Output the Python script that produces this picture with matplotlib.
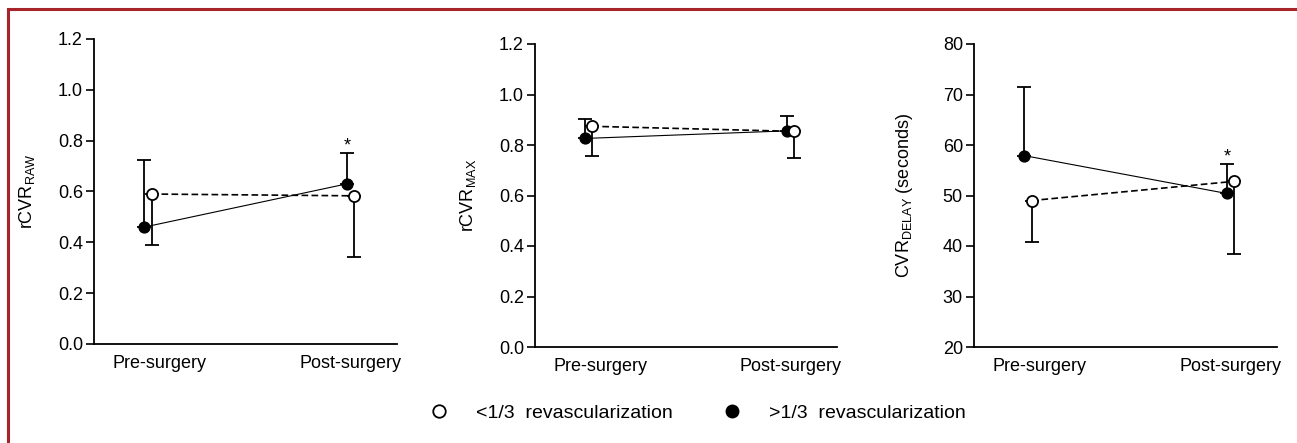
import numpy as np
import matplotlib
matplotlib.use('Agg')
import matplotlib.pyplot as plt
from matplotlib.lines import Line2D
from matplotlib.patches import Rectangle
import matplotlib.transforms as mtransforms

plt.rcParams['font.family'] = ['Liberation Sans', 'DejaVu Sans']
plt.rcParams['mathtext.fontset'] = 'custom'
plt.rcParams['mathtext.rm'] = 'Liberation Sans'

# categories
groups = ['Pre-surgery', 'Post-surgery']

# <1/3 revascularization (open circles), mean and lower SD
low_raw = [0.59, 0.583]
low_raw_err = [0.20, 0.24]
low_max = [0.874, 0.854]
low_max_err = [0.117, 0.106]
low_delay = [49.0, 52.8]
low_delay_err = [8.2, 14.3]

# >1/3 revascularization (filled circles), mean and upper SD
high_raw = [0.46, 0.63]
high_raw_err = [0.265, 0.123]
high_max = [0.826, 0.856]
high_max_err = [0.075, 0.06]
high_delay = [57.9, 50.4]
high_delay_err = [13.6, 5.9]

star_raw = [False, True]
star_max = [False, False]
star_delay = [False, True]

ylabels = ['rCVR$_{\\mathrm{RAW}}$', 'rCVR$_{\\mathrm{MAX}}$',
           'CVR$_{\\mathrm{DELAY}}$ (seconds)']
ylims = [(0, 1.2), (0, 1.2), (20, 80)]
yticks = [np.arange(0, 1.21, 0.2), np.arange(0, 1.21, 0.2), np.arange(20, 81, 10)]
ytickfmt = ['{:.1f}', '{:.1f}', '{:.0f}']

W, H = 1297, 443
fig = plt.figure(figsize=(W / 100, H / 100), dpi=100)

# axes boxes in pixels: left, right, top, bottom
boxes = [(94, 397, 39, 344), (535, 837, 44, 347), (974, 1277, 44, 347)]
labx = [-0.188, -0.189, -0.195]

data = [(low_raw, low_raw_err, high_raw, high_raw_err, star_raw),
        (low_max, low_max_err, high_max, high_max_err, star_max),
        (low_delay, low_delay_err, high_delay, high_delay_err, star_delay)]

off = 0.018
x = np.arange(len(groups))

for i, (l, r, t, b) in enumerate(boxes):
    ax = fig.add_axes([l / W, 1 - b / H, (r - l) / W, (b - t) / H])
    lo, lo_e, hi, hi_e, stars = data[i]

    # filled series: solid thin line, upper error bars
    ax.plot(x - off, hi, color='black', lw=0.8, zorder=2)
    ax.errorbar(x - off, hi, yerr=[np.zeros(len(hi)), hi_e], fmt='none',
                ecolor='black', elinewidth=1.3, capsize=4.7, capthick=1.3, zorder=2)
    ax.plot(x - off, hi, 'o', ms=7.8, mfc='black', mec='black', mew=1.0, zorder=3)

    # open series: dashed line, lower error bars
    ax.plot(x + off, lo, color='black', lw=1.2, ls=(0, (4, 2)), zorder=2)
    ax.errorbar(x + off, lo, yerr=[lo_e, np.zeros(len(lo))], fmt='none',
                ecolor='black', elinewidth=1.3, capsize=4.7, capthick=1.3, zorder=2)
    ax.plot(x + off, lo, 'o', ms=8, mfc='white', mec='black', mew=1.3, zorder=4)

    for j, s in enumerate(stars):
        if s:
            ax.annotate('*', (x[j] - off, hi[j] + hi_e[j]), xytext=(0, -1),
                        textcoords='offset points', ha='center', va='bottom',
                        fontsize=13)

    ax.set_xlim(-0.266, 1.23)
    ax.set_ylim(*ylims[i])
    ax.set_yticks(yticks[i])
    ax.set_yticklabels([ytickfmt[i].format(v) for v in yticks[i]])
    ax.set_xticks(x)
    ax.set_xticklabels(groups)
    ax.tick_params(axis='y', direction='out', length=6, width=1.2, pad=2,
                   labelsize=13)
    ax.tick_params(axis='x', length=0, pad=8, labelsize=13)
    # first category label sits a bit to the right in the original
    lab0 = ax.get_xticklabels()[0]
    lab0.set_transform(lab0.get_transform() +
                       mtransforms.ScaledTranslation(12 / 100, 0, fig.dpi_scale_trans))
    for side in ['top', 'right']:
        ax.spines[side].set_visible(False)
    for side in ['left', 'bottom']:
        ax.spines[side].set_linewidth(1.3)
    ax.set_ylabel(ylabels[i], fontsize=13)
    ax.yaxis.set_label_coords(labx[i], 0.5)

# legend
handles = [Line2D([], [], ls='none', marker='o', ms=9, mfc='white', mec='black', mew=1.3),
           Line2D([], [], ls='none', marker='o', ms=9, mfc='black', mec='black')]
fig.legend(handles, ['<1/3  revascularization', '>1/3  revascularization'],
           loc='center', bbox_to_anchor=(0.538, 1 - 413 / H), ncol=2, frameon=False,
           fontsize=14, handlelength=1.0, handletextpad=1.4, columnspacing=2.55)

# dark red frame
fig.add_artist(Rectangle((7.5 / W, -0.1), 2, 1.1 - 8.5 / H, transform=fig.transFigure,
                         fill=False, ec='#a8242b', lw=2.2))

fig.savefig('out.png', dpi=100)
